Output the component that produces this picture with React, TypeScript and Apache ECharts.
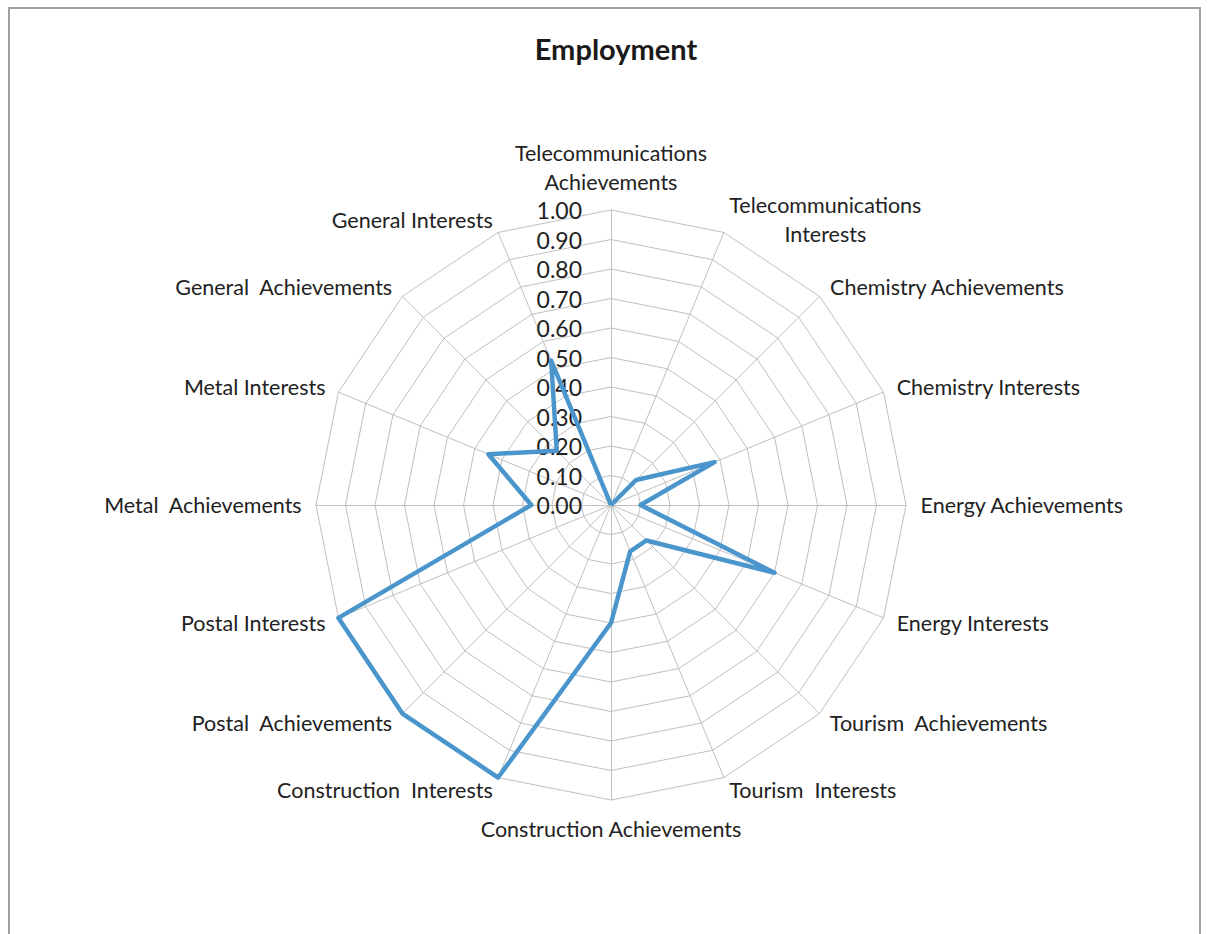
import React, { useEffect, useRef } from "react";
import * as echarts from "echarts";

// Categories in clockwise order starting from the top
const categories: string[] = [
  "Telecommunications\nAchievements",
  "Telecommunications\nInterests",
  "Chemistry Achievements",
  "Chemistry Interests",
  "Energy Achievements",
  "Energy Interests",
  "Tourism  Achievements",
  "Tourism  Interests",
  "Construction Achievements",
  "Construction  Interests",
  "Postal  Achievements",
  "Postal Interests",
  "Metal  Achievements",
  "Metal Interests",
  "General  Achievements",
  "General Interests",
];

const values: number[] = [
  0, 0, 0.12, 0.38, 0.1, 0.6, 0.17, 0.17, 0.4, 1.0, 1.0, 1.0, 0.27, 0.45, 0.26, 0.53,
];

const axisMin = 0;
const axisMax = 1;
const axisSplits = 10;

const FONT = "Lato, 'Noto Sans', sans-serif";

export default function App() {
  const ref = useRef<HTMLDivElement>(null);

  useEffect(() => {
    if (!ref.current) return;
    const chart = echarts.init(ref.current, undefined, { renderer: "svg" });

    // ECharts radar places indicators counter-clockwise; reorder to draw clockwise.
    const n = categories.length;
    const order = [0];
    for (let i = n - 1; i >= 1; i--) order.push(i);

    const indicator = order.map((idx, k) => ({
      name: categories[idx],
      min: axisMin,
      max: axisMax,
      ...(k === 0
        ? {
            axisLabel: {
              show: true,
              formatter: (v: number) => v.toFixed(2),
              color: "#222",
              fontSize: 23,
              fontFamily: FONT,
              margin: 29,
            },
          }
        : {}),
    }));

    chart.setOption({
      animation: false,
      backgroundColor: "#fff",
      title: {
        text: "Employment",
        left: 611,
        top: 29,
        textAlign: "center",
        textStyle: {
          fontFamily: FONT,
          fontWeight: "bold",
          fontSize: 29,
          color: "#1a1a1a",
        },
      },
      graphic: [
        {
          type: "polyline",
          shape: {
            points: [
              [9, 940],
              [9, 8],
              [1200, 8],
              [1200, 940],
            ],
          },
          style: { stroke: "#a0a0a0", lineWidth: 2, fill: null },
          silent: true,
        },
      ],
      radar: {
        center: [611, 505],
        radius: 295,
        startAngle: 90,
        shape: "polygon",
        splitNumber: axisSplits,
        nameGap: 14,
        axisName: {
          color: "#222",
          fontSize: 21.5,
          fontFamily: FONT,
          formatter: (name: string) =>
            name
              .split("\n")
              .map((l) => `{c|${l}}`)
              .join("\n"),
          rich: {
            c: {
              align: "center",
              color: "#222",
              fontSize: 21.5,
              fontFamily: FONT,
              lineHeight: 29,
            },
          },
        },
        axisLine: { lineStyle: { color: "#c0c0c0", width: 1 } },
        splitLine: { lineStyle: { color: "#c0c0c0", width: 1 } },
        splitArea: { show: false },
        axisTick: { show: false },
        axisLabel: { show: false },
        indicator,
      },
      series: [
        {
          type: "radar",
          symbol: "none",
          lineStyle: { color: "#4a96cc", width: 4.5 },
          itemStyle: { color: "#4a96cc" },
          data: [{ value: order.map((idx) => values[idx]), name: "Employment" }],
        },
      ],
    });

    return () => chart.dispose();
  }, []);

  return (
    <div
      ref={ref}
      style={{ position: "fixed", left: 0, top: 0, width: 1210, height: 934 }}
    />
  );
}
